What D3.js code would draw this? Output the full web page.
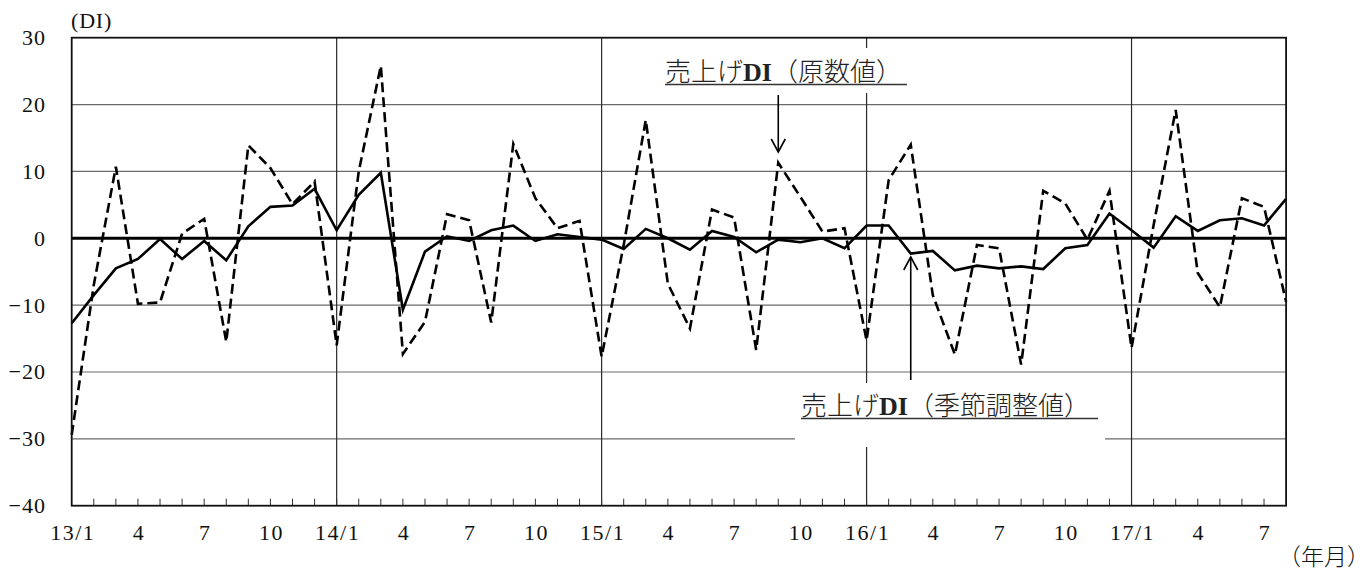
<!DOCTYPE html>
<html>
<head>
<meta charset="utf-8">
<script src="https://cdn.jsdelivr.net/npm/d3@7"></script>
<style>
  html, body { margin: 0; padding: 0; background: #fff; }
  svg { display: block; }
</style>
</head>
<body>
<svg id="chart" width="1372" height="575"></svg>
<script>
// ---- data (2013/1 .. 2017/8) ----
const months = [
  "13/1","13/2","13/3","13/4","13/5","13/6","13/7","13/8","13/9","13/10","13/11","13/12",
  "14/1","14/2","14/3","14/4","14/5","14/6","14/7","14/8","14/9","14/10","14/11","14/12",
  "15/1","15/2","15/3","15/4","15/5","15/6","15/7","15/8","15/9","15/10","15/11","15/12",
  "16/1","16/2","16/3","16/4","16/5","16/6","16/7","16/8","16/9","16/10","16/11","16/12",
  "17/1","17/2","17/3","17/4","17/5","17/6","17/7","17/8"
];
const salesDIRaw = [
  -29.4, -7.0, 10.7, -9.8, -9.6, 0.7, 2.9, -15.5, 13.9, 10.5, 5.1, 8.5,
  -16.0, 10.0, 25.8, -17.3, -12.5, 3.6, 2.7, -12.6, 14.1, 6.0, 1.5, 2.6,
  -17.7, -1.0, 17.7, -6.8, -13.5, 4.3, 3.1, -16.7, 11.3, 6.2, 1.0, 1.5,
  -15.3, 8.7, 14.0, -8.5, -17.4, -1.0, -1.5, -18.9, 7.1, 5.2, -0.2, 7.1,
  -16.4, 2.0, 19.2, -5.2, -10.3, 6.0, 4.7, -9.5
];
const salesDISA = [
  -12.7, -8.5, -4.5, -3.1, -0.1, -3.1, -0.4, -3.3, 1.8, 4.7, 4.9, 7.4,
  1.2, 6.5, 9.8, -10.7, -2.0, 0.3, -0.4, 1.2, 1.9, -0.4, 0.6, 0.2,
  -0.2, -1.6, 1.4, 0.0, -1.7, 1.1, 0.2, -2.1, -0.2, -0.6, 0.0, -1.5,
  1.9, 1.9, -2.3, -1.9, -4.8, -4.1, -4.5, -4.2, -4.6, -1.5, -1.0, 3.7,
  1.2, -1.4, 3.3, 1.1, 2.7, 3.0, 1.9, 5.9
];
const yTicks = [-40, -30, -20, -10, 0, 10, 20, 30];
const xTickMonths = ["1", "4", "7", "10"];
const labelRawParts = ["売上げ", "DI", "（原数値）"];
const labelSAParts = ["売上げ", "DI", "（季節調整値）"];
const yUnitLabel = "(DI)";
const xUnitLabel = "（年月）";

// ---- layout ----
const svg = d3.select("#chart");
const L = 71.7, R = 1286.1, T = 37.7, B = 505.7;
const x = d3.scaleLinear().domain([0, months.length - 1]).range([L, R]);
const y = d3.scaleLinear().domain([-40, 30]).range([B, T]);
const serif = "'Liberation Serif', 'Times New Roman', serif";
const cjk = "'Noto Sans CJK JP', 'Noto Sans CJK SC', sans-serif";

svg.append("rect").attr("width", 1372).attr("height", 575).attr("fill", "#fff");

// horizontal gridlines
svg.append("g").selectAll("line")
  .data(yTicks.filter(v => v !== 0 && v !== -40 && v !== 30))
  .join("line")
  .attr("x1", L).attr("x2", R)
  .attr("y1", d => y(d)).attr("y2", d => y(d))
  .attr("stroke", "#6a6a6a").attr("stroke-width", 1.2);

// vertical year lines
const janIdx = months.map((m, i) => m.endsWith("/1") ? i : -1).filter(i => i > 0);
svg.append("g").selectAll("line")
  .data(janIdx)
  .join("line")
  .attr("x1", d => x(d)).attr("x2", d => x(d))
  .attr("y1", T).attr("y2", B)
  .attr("stroke", "#2a2a2a").attr("stroke-width", 1.2);

// white boxes behind the annotation labels
svg.append("rect").attr("x", 660).attr("y", 48).attr("width", 252).attr("height", 45).attr("fill", "#fff");
svg.append("rect").attr("x", 795).attr("y", 383).attr("width", 310).attr("height", 64).attr("fill", "#fff");

// zero line
svg.append("line")
  .attr("x1", L).attr("x2", R).attr("y1", y(0)).attr("y2", y(0))
  .attr("stroke", "#000").attr("stroke-width", 3);

// month ticks (inside, at bottom)
svg.append("g").selectAll("line")
  .data(d3.range(1, months.length - 1))
  .join("line")
  .attr("x1", d => x(d)).attr("x2", d => x(d))
  .attr("y1", B).attr("y2", B - 7)
  .attr("stroke", "#333").attr("stroke-width", 1);

// data lines
const line = d3.line().x((d, i) => x(i)).y(d => y(d));
svg.append("path").datum(salesDIRaw)
  .attr("d", line).attr("fill", "none")
  .attr("stroke", "#000").attr("stroke-width", 2.6)
  .attr("stroke-dasharray", "10,5").attr("stroke-linejoin", "miter");
svg.append("path").datum(salesDISA)
  .attr("d", line).attr("fill", "none")
  .attr("stroke", "#000").attr("stroke-width", 2.6)
  .attr("stroke-linejoin", "miter");

// plot border
svg.append("rect")
  .attr("x", L).attr("y", T).attr("width", R - L).attr("height", B - T)
  .attr("fill", "none").attr("stroke", "#111").attr("stroke-width", 1.8);

// y tick labels
svg.append("g").selectAll("text")
  .data(yTicks)
  .join("text")
  .attr("x", 46).attr("y", d => y(d) + 7.5)
  .attr("text-anchor", "end")
  .attr("font-family", serif).attr("font-size", 22).attr("fill", "#111")
  .attr("letter-spacing", 1)
  .text(d => d < 0 ? "\u2212" + Math.abs(d) : String(d));

// x tick labels
const xLab = months.map((m, i) => ({ i, m })).filter(d => xTickMonths.includes(d.m.split("/")[1]));
svg.append("g").selectAll("text")
  .data(xLab)
  .join("text")
  .attr("x", d => x(d.i) + 1).attr("y", 540)
  .attr("text-anchor", "middle")
  .attr("font-family", serif).attr("font-size", 22).attr("fill", "#111")
  .attr("letter-spacing", 1.5)
  .text(d => d.m.endsWith("/1") ? d.m : d.m.split("/")[1]);

// unit labels
svg.append("text").attr("x", 71).attr("y", 28)
  .attr("font-family", serif).attr("font-size", 22).attr("fill", "#111")
  .attr("letter-spacing", 0.8)
  .text(yUnitLabel);
svg.append("text").attr("x", 1278).attr("y", 565)
  .attr("font-family", cjk).attr("font-weight", 300).attr("font-size", 23).attr("fill", "#111")
  .text(xUnitLabel);

// annotations
function annot(parts, tx, ty, ulEnd) {
  const t = svg.append("text").attr("x", tx).attr("y", ty).attr("font-size", 26).attr("fill", "#222");
  t.append("tspan").attr("font-family", cjk).attr("font-weight", 300).text(parts[0]);
  t.append("tspan").attr("font-family", "'Liberation Serif', serif").attr("font-weight", 700).text(parts[1]);
  t.append("tspan").attr("font-family", cjk).attr("font-weight", 300).text(parts[2]);
  svg.append("line").attr("x1", tx).attr("x2", ulEnd).attr("y1", ty + 3.5).attr("y2", ty + 3.5)
    .attr("stroke", "#333").attr("stroke-width", 1.3);
}
annot(labelRawParts, 665, 81, 907);
annot(labelSAParts, 801, 415, 1098);

function arrow(xi, y1, y2) {
  const ax = x(xi);
  const dir = y2 > y1 ? -1 : 1;
  svg.append("line").attr("x1", ax).attr("x2", ax).attr("y1", y1).attr("y2", y2)
    .attr("stroke", "#000").attr("stroke-width", 1.6);
  svg.append("path")
    .attr("d", `M${ax - 7},${y2 + dir * 13}L${ax},${y2}L${ax + 7},${y2 + dir * 13}`)
    .attr("fill", "none").attr("stroke", "#000").attr("stroke-width", 1.6);
}
arrow(32, 95, 152);
arrow(38, 380, 257);
</script>
</body>
</html>
